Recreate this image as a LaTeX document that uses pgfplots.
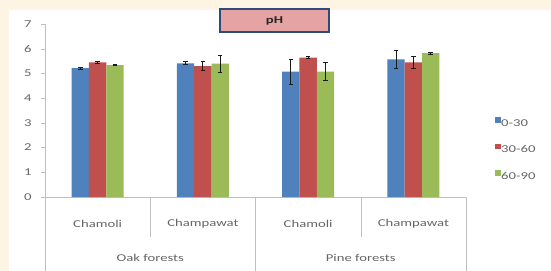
\documentclass[border=0pt]{standalone}
\usepackage{pgfplots}
\usepackage{pgfplotstable}
\pgfplotsset{compat=1.18}
\usepackage{fontspec}
\setmainfont{Carlito}[FakeStretch=1.4]
\definecolor{cream}{HTML}{FEF4E4}
\definecolor{barblue}{HTML}{4F81BD}
\definecolor{barred}{HTML}{C0504D}
\definecolor{bargreen}{HTML}{9BBB59}
\definecolor{axgray}{HTML}{BFBFBF}
\definecolor{txtgray}{HTML}{666666}
\definecolor{titlefill}{HTML}{E6A3A3}
\definecolor{titledraw}{HTML}{2E4A7A}
\definecolor{errc}{HTML}{1A1A1A}

\pgfplotstableread{
x y e
0 5.21 0.03
1 5.41 0.06
2 5.07 0.50
3 5.57 0.35
}\tblA
\pgfplotstableread{
x y e
0 5.45 0.04
1 5.30 0.18
2 5.64 0.03
3 5.45 0.23
}\tblB
\pgfplotstableread{
x y e
0 5.34 0.03
1 5.40 0.34
2 5.07 0.37
3 5.82 0.03
}\tblC

\begin{document}
\begin{tikzpicture}
\fill[cream] (0,0) rectangle (551bp,271bp);
\fill[white] (9bp,0) rectangle (551bp,261bp);
\begin{axis}[
  at={(45bp,74bp)}, anchor=south west,
  scale only axis, width=421bp, height=173bp,
  clip=false,
  ybar=0pt, bar width=17.3bp,
  xmin=-0.5, xmax=3.5, ymin=0, ymax=7,
  axis x line=bottom, axis y line=left,
  axis line style={draw=axgray, -},
  xtick={0,1,2,3},
  xticklabels={Chamoli,Champawat,Chamoli,Champawat},
  x tick style={draw=none},
  xticklabel style={anchor=center, yshift=-23bp},
  ytick={0,1,...,7},
  y tick style={draw=axgray},
  tick align=outside,
  major tick length=4bp,
  yticklabel style={anchor=east, xshift=-6bp},
  tick label style={font=\fontsize{10.5bp}{13bp}\selectfont, text=txtgray},
  /pgf/number format/assume math mode=true,
  title={\raisebox{-2bp}{pH}},
  title style={at={(0.545,0.9855)}, anchor=center, fill=titlefill, draw=titledraw,
    line width=1.3bp, minimum width=109bp, minimum height=23bp, inner sep=0pt,
    font=\bfseries\fontsize{10.5bp}{13bp}\selectfont, text=black!85},
  legend style={at={(1.0618,0.474)}, anchor=north west, draw=none, fill=none,
    row sep=17bp, font=\fontsize{10.5bp}{13bp}\selectfont, text=txtgray,
    nodes={text height=8bp, text depth=0pt, inner sep=0.5bp}},
  legend image code/.code={\fill[#1] (0bp,-0.5bp) rectangle (5.5bp,5bp);},
  legend cell align=left,
  error bars/error bar style={draw=errc, line width=0.8bp},
  error bars/error mark options={rotate=90, mark size=2.2bp, draw=errc, line width=0.8bp},
]
\addplot[fill=barblue, draw=none, error bars/.cd, y dir=both, y explicit]
  table[x=x, y=y, y error=e] {\tblA};
\addplot[fill=barred, draw=none, error bars/.cd, y dir=both, y explicit]
  table[x=x, y=y, y error=e] {\tblB};
\addplot[fill=bargreen, draw=none, error bars/.cd, y dir=both, y explicit]
  table[x=x, y=y, y error=e] {\tblC};
\legend{0-30,30-60,60-90}
\draw[axgray] (axis cs:-0.5,0) -- ([yshift=-74bp]axis cs:-0.5,0);
\draw[axgray] (axis cs:1.5,0) -- ([yshift=-74bp]axis cs:1.5,0);
\draw[axgray] (axis cs:3.5,0) -- ([yshift=-74bp]axis cs:3.5,0);
\draw[axgray] (axis cs:0.5,0) -- ([yshift=-40bp]axis cs:0.5,0);
\draw[axgray] (axis cs:2.5,0) -- ([yshift=-40bp]axis cs:2.5,0);
\node[text=txtgray, font=\fontsize{10.5bp}{13bp}\selectfont] at ([yshift=-61bp]axis cs:0.5,0) {Oak forests};
\node[text=txtgray, font=\fontsize{10.5bp}{13bp}\selectfont] at ([yshift=-61bp]axis cs:2.5,0) {Pine forests};
\end{axis}
\pgfresetboundingbox
\path[use as bounding box] (0,0) rectangle (551bp,271bp);
\end{tikzpicture}
\end{document}
